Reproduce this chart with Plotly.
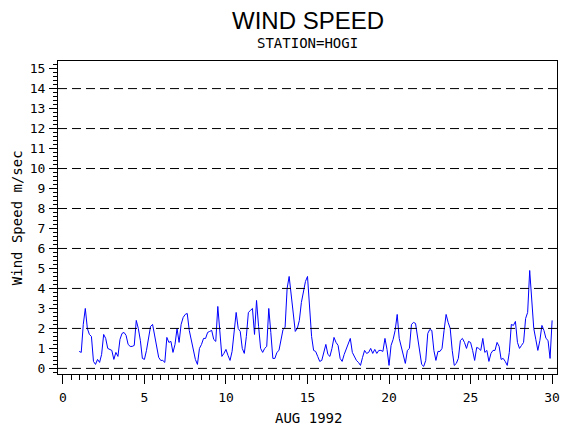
import plotly.graph_objects as go

# wind speed at station HOGI, Aug 1992, read every 3 hours from day 1.0 to day 30.0
start_day = 1.0
step_days = 0.125
wind_speed = [
    0.85, 0.8, 2.2, 3.0, 2.0, 1.7, 1.6, 0.35,      # day 1
    0.2, 0.45, 0.3, 0.7, 1.7, 1.5, 1.0, 0.95,      # day 2
    0.9, 0.45, 0.8, 0.6, 1.45, 1.75, 1.8, 1.65,    # day 3
    1.2, 1.1, 1.1, 1.15, 2.4, 2.0, 1.4, 0.5,       # day 4
    0.45, 0.9, 1.5, 2.1, 2.2, 1.6, 1.15, 0.55,     # day 5
    0.4, 0.4, 0.3, 1.55, 1.3, 1.35, 0.8, 1.2,      # day 6
    2.0, 1.3, 2.2, 2.55, 2.7, 2.75, 1.9, 1.4,      # day 7
    1.0, 0.45, 0.2, 1.0, 1.2, 1.5, 1.5, 1.8,       # day 8
    1.85, 1.9, 1.45, 1.35, 3.1, 1.8, 0.6, 0.75,    # day 9
    0.95, 0.65, 0.4, 0.85, 1.8, 2.8, 2.0, 1.85,    # day 10
    1.0, 0.75, 1.6, 2.8, 2.9, 3.0, 1.7, 3.4,       # day 11
    2.1, 1.0, 0.8, 1.0, 1.1, 3.0, 1.8, 0.5,        # day 12
    0.5, 0.8, 0.9, 1.4, 1.95, 2.05, 4.0, 4.6,      # day 13
    3.7, 2.8, 1.85, 2.0, 2.4, 3.3, 3.9, 4.35,      # day 14
    4.6, 2.9, 1.6, 0.9, 0.85, 0.6, 0.35, 0.4,      # day 15
    0.8, 1.2, 0.7, 0.6, 1.0, 1.55, 1.3, 1.15,      # day 16
    0.5, 0.35, 0.7, 1.0, 1.3, 1.5, 0.8, 0.6,       # day 17
    0.4, 0.3, 0.15, 0.55, 0.9, 0.75, 0.8, 1.0,     # day 18
    0.75, 0.95, 0.75, 0.9, 0.9, 0.85, 1.5, 0.95,   # day 19
    0.15, 1.15, 1.45, 1.9, 2.7, 1.5, 1.1, 0.6,     # day 20
    0.25, 0.9, 1.0, 2.2, 2.3, 2.25, 1.5, 0.9,      # day 21
    0.2, 0.1, 0.4, 1.75, 1.95, 1.9, 0.9, 0.4,      # day 22
    0.85, 0.85, 1.0, 1.9, 2.7, 2.3, 2.0, 0.9,      # day 23
    0.15, 0.25, 0.5, 1.4, 1.5, 1.3, 1.0, 1.35,     # day 24
    1.3, 0.9, 0.4, 1.05, 1.0, 0.9, 1.5, 0.8,       # day 25
    0.9, 0.35, 0.75, 0.9, 0.9, 1.3, 1.1, 0.45,     # day 26
    0.5, 0.35, 0.15, 0.8, 2.2, 2.15, 2.35, 1.3,    # day 27
    1.0, 1.15, 1.3, 2.5, 2.8, 4.9, 3.6, 2.0,       # day 28
    1.45, 0.9, 1.4, 2.15, 1.9, 1.5, 1.4, 0.5,      # day 29
    2.4,                                           # day 30
]
day = [start_day + i * step_days for i in range(len(wind_speed))]

y_ticks = list(range(0, 16))
x_ticks = [0, 5, 10, 15, 20, 25, 30]
grid_levels = [0, 2, 4, 6, 8, 10, 12, 14]

tick_font = dict(family="DejaVu Sans Mono", size=13, color="black")
label_font = dict(family="DejaVu Sans Mono", size=14, color="black")

# page rows of the plot frame (the page body adds an 8px margin)
plot_top, plot_bottom = 61, 374
plot_h = plot_bottom - plot_top

fig = go.Figure()
fig.add_trace(go.Scatter(
    x=day,
    y=wind_speed,
    mode="lines",
    line=dict(color="#0000ff", width=1),
    hoverinfo="x+y",
))

# dashed reference lines every 2 m/sec
for lvl in grid_levels:
    fig.add_hline(y=lvl, line=dict(color="black", width=1, dash="9px,5px"))

fig.update_layout(
    width=562,
    height=422,
    margin=dict(l=50, r=10, t=53, b=56),
    paper_bgcolor="white",
    plot_bgcolor="white",
    showlegend=False,
    annotations=[
        dict(text="WIND SPEED", x=0.5, y=(plot_bottom - 21) / plot_h,
             xref="paper", yref="paper", xanchor="center", yanchor="middle",
             showarrow=False, font=dict(family="Liberation Sans", size=24, color="black")),
        dict(text="STATION=HOGI", x=0.5, y=(plot_bottom - 43) / plot_h,
             xref="paper", yref="paper", xanchor="center", yanchor="middle",
             showarrow=False, font=label_font),
        dict(text="AUG 1992", x=0.502, y=(plot_bottom - 418) / plot_h,
             xref="paper", yref="paper", xanchor="center", yanchor="middle",
             showarrow=False, font=label_font),
        dict(text="Wind Speed m/sec", x=-0.082, y=0.498,
             xref="paper", yref="paper", xanchor="center", yanchor="middle",
             textangle=-90, showarrow=False, font=label_font),
    ],
)

fig.update_xaxes(
    range=[-0.3, 30.3],
    tickvals=x_ticks,
    ticks="outside",
    ticklen=9,
    tickcolor="black",
    minor=dict(dtick=0.5, ticks="outside", ticklen=5, tickcolor="black", showgrid=False),
    ticklabelstandoff=2,
    tickfont=tick_font,
    showgrid=False,
    zeroline=False,
    showline=True,
    linecolor="black",
    linewidth=1,
    mirror=True,
)
fig.update_yaxes(
    range=[-0.28, 15.38],
    tickvals=y_ticks,
    ticks="outside",
    ticklen=8,
    tickcolor="black",
    minor=dict(dtick=0.2, ticks="outside", ticklen=4, tickcolor="black", showgrid=False),
    ticklabelstandoff=1,
    tickfont=tick_font,
    showgrid=False,
    zeroline=False,
    showline=True,
    linecolor="black",
    linewidth=1,
    mirror=True,
)

fig.write_html("out.html")
